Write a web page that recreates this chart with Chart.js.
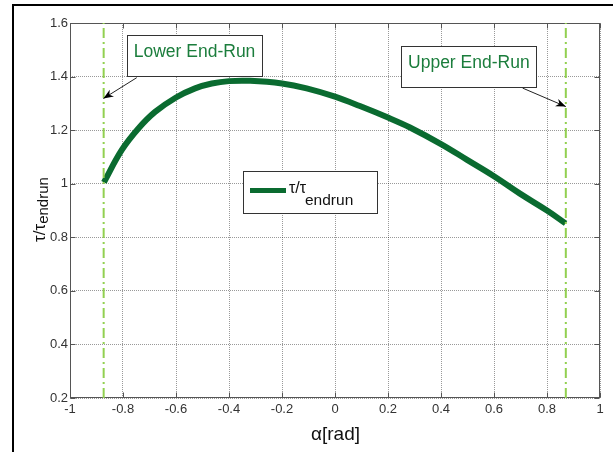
<!DOCTYPE html>
<html>
<head>
<meta charset="utf-8">
<script src="https://cdn.jsdelivr.net/npm/chart.js@4.4.1/dist/chart.umd.min.js"></script>
<style>
  body { margin: 0; background: #fff; }
  canvas { display: block; }
</style>
</head>
<body>
<canvas id="myChart" width="613" height="452"></canvas>
<script>
// values
const alpha = [-0.872, -0.805, -0.742, -0.679, -0.6, -0.528, -0.465, -0.4, -0.32, -0.2, -0.107,
  0, 0.094, 0.2, 0.283, 0.4, 0.497, 0.6, 0.698, 0.8, 0.87];
const tauRatio = [1.005, 1.125, 1.206, 1.268, 1.322, 1.356, 1.374, 1.383, 1.384, 1.374, 1.356,
  1.325, 1.29, 1.247, 1.21, 1.148, 1.09, 1.028, 0.963, 0.9, 0.852];
const endRunAlpha = [-0.873, 0.871];
const xTicks = [-1, -0.8, -0.6, -0.4, -0.2, 0, 0.2, 0.4, 0.6, 0.8, 1];
const yTicks = [0.2, 0.4, 0.6, 0.8, 1, 1.2, 1.4, 1.6];

const curveColor = "#0a6b30";
const endRunColor = "#92d050";
const noteColor = "#1b7d3c";
const font = "'Liberation Sans', Arial, sans-serif";

const notes = [
  { text: "Lower End-Run", at: [-0.53, 1.477], from: [-0.748, 1.396], to: [-0.874, 1.318] },
  { text: "Upper End-Run", at: [0.505, 1.436], from: [0.708, 1.357], to: [0.871, 1.288] },
];

const fmt = (v) => String(Math.round(v * 10) / 10);

const drawArrow = (ctx, x1, y1, x2, y2) => {
  ctx.strokeStyle = "#222";
  ctx.lineWidth = 1;
  ctx.beginPath();
  ctx.moveTo(x1, y1);
  ctx.lineTo(x2, y2);
  ctx.stroke();
  const ang = Math.atan2(y2 - y1, x2 - x1);
  const len = 10, half = 4;
  const bx = x2 - len * Math.cos(ang), by = y2 - len * Math.sin(ang);
  ctx.fillStyle = "#000";
  ctx.beginPath();
  ctx.moveTo(x2, y2);
  ctx.lineTo(bx + half * Math.sin(ang), by - half * Math.cos(ang));
  ctx.lineTo(bx + 3 * Math.cos(ang), by + 3 * Math.sin(ang));
  ctx.lineTo(bx - half * Math.sin(ang), by + half * Math.cos(ang));
  ctx.closePath();
  ctx.fill();
};

const decor = {
  id: "decor",
  beforeDatasetsDraw(chart) {
    const { ctx, chartArea: a, scales: { x, y } } = chart;
    ctx.save();
    ctx.strokeStyle = "#555";
    ctx.lineWidth = 1;
    const L = Math.round(a.left) + 0.5, R = Math.round(a.right) - 0.5;
    const T = Math.round(a.top) + 0.5, B = Math.round(a.bottom) - 0.5;
    ctx.strokeRect(L, T, R - L, B - T);
    ctx.beginPath();
    xTicks.forEach((v) => {
      const px = Math.round(x.getPixelForValue(v)) + 0.5;
      ctx.moveTo(px, B); ctx.lineTo(px, B - 5);
      ctx.moveTo(px, T); ctx.lineTo(px, T + 5);
    });
    yTicks.forEach((v) => {
      const py = Math.round(y.getPixelForValue(v)) + 0.5;
      ctx.moveTo(L, py); ctx.lineTo(L + 5, py);
      ctx.moveTo(R, py); ctx.lineTo(R - 5, py);
    });
    ctx.stroke();
    ctx.restore();
  },
  afterDraw(chart) {
    const { ctx, chartArea: a, scales: { x, y } } = chart;
    ctx.save();

    // outer frame
    ctx.fillStyle = "#000";
    ctx.fillRect(12, 4, 2, 448);
    ctx.fillRect(12, 4, 601, 2);

    // notes with arrows
    notes.forEach((n) => {
      const cx = x.getPixelForValue(n.at[0]), cy = y.getPixelForValue(n.at[1]);
      const w = 135, h = 41;
      ctx.fillStyle = "#fff";
      ctx.fillRect(cx - w / 2, cy - h / 2, w, h);
      ctx.strokeStyle = "#333";
      ctx.lineWidth = 1;
      ctx.strokeRect(Math.round(cx - w / 2) + 0.5, Math.round(cy - h / 2) + 0.5, w, h);
      ctx.fillStyle = noteColor;
      ctx.font = "17.5px " + font;
      ctx.textAlign = "center";
      ctx.textBaseline = "alphabetic";
      ctx.fillText(n.text, cx, cy - h / 2 + 22);
      drawArrow(ctx,
        x.getPixelForValue(n.from[0]), y.getPixelForValue(n.from[1]),
        x.getPixelForValue(n.to[0]), y.getPixelForValue(n.to[1]));
    });

    // legend
    const lx = 243, ly = 171;
    ctx.fillStyle = "#fff";
    ctx.fillRect(lx, ly, 134, 42);
    ctx.strokeStyle = "#333";
    ctx.lineWidth = 1;
    ctx.strokeRect(lx + 0.5, ly + 0.5, 134, 42);
    ctx.strokeStyle = curveColor;
    ctx.lineWidth = 5;
    ctx.beginPath();
    ctx.moveTo(250, 190.5);
    ctx.lineTo(286, 190.5);
    ctx.stroke();
    ctx.fillStyle = "#111";
    ctx.textAlign = "left";
    ctx.font = "16px " + font;
    ctx.fillText("\u03c4/\u03c4", 289, 193);
    ctx.font = "15.5px " + font;
    ctx.fillText("endrun", 305, 205);

    // x title
    ctx.fillStyle = "#111";
    ctx.textAlign = "center";
    ctx.font = "19px " + font;
    ctx.fillText("\u03b1[rad]", (a.left + a.right) / 2 + 0.5, 440);

    // y title
    ctx.translate(45, 242);
    ctx.rotate(-Math.PI / 2);
    ctx.textAlign = "left";
    ctx.font = "17px " + font;
    ctx.fillText("\u03c4/\u03c4", 0, 0);
    const mw = ctx.measureText("\u03c4/\u03c4").width;
    ctx.font = "15px " + font;
    ctx.fillText("endrun", mw, 3);
    ctx.restore();
  },
};

const endRunLine = (v) => ({
  data: [{ x: v, y: 0.2 }, { x: v, y: 1.6 }],
  borderColor: endRunColor,
  borderWidth: 2,
  borderDash: [10, 4, 2, 4],
  pointRadius: 0,
  fill: false,
});

const tickFont = { family: font, size: 13 };

new Chart(document.getElementById("myChart"), {
  type: "line",
  data: {
    datasets: [
      ...endRunAlpha.map(endRunLine),
      {
        data: alpha.map((a, i) => ({ x: a, y: tauRatio[i] })),
        borderColor: curveColor,
        borderWidth: 6,
        pointRadius: 0,
        tension: 0.4,
        fill: false,
      },
    ],
  },
  options: {
    responsive: false,
    animation: false,
    layout: { padding: { left: 0, right: 13, top: 23, bottom: 0 } },
    plugins: { legend: { display: false }, tooltip: { enabled: false } },
    scales: {
      x: {
        type: "linear",
        min: -1,
        max: 1,
        afterFit: (s) => { s.height = 54; },
        afterBuildTicks: (s) => { s.ticks = xTicks.map((v) => ({ value: v })); },
        ticks: { font: tickFont, color: "#333", padding: 4, maxRotation: 0, callback: fmt },
        grid: { color: "rgba(0,0,0,0.4)", lineWidth: 1, drawTicks: false },
        border: { display: false, dash: [1, 1] },
      },
      y: {
        type: "linear",
        min: 0.2,
        max: 1.6,
        afterFit: (s) => { s.width = 70; },
        afterBuildTicks: (s) => { s.ticks = yTicks.map((v) => ({ value: v })); },
        ticks: { font: tickFont, color: "#333", padding: 2, callback: fmt },
        grid: { color: "rgba(0,0,0,0.4)", lineWidth: 1, drawTicks: false },
        border: { display: false, dash: [1, 1] },
      },
    },
  },
  plugins: [decor],
});
</script>
</body>
</html>
